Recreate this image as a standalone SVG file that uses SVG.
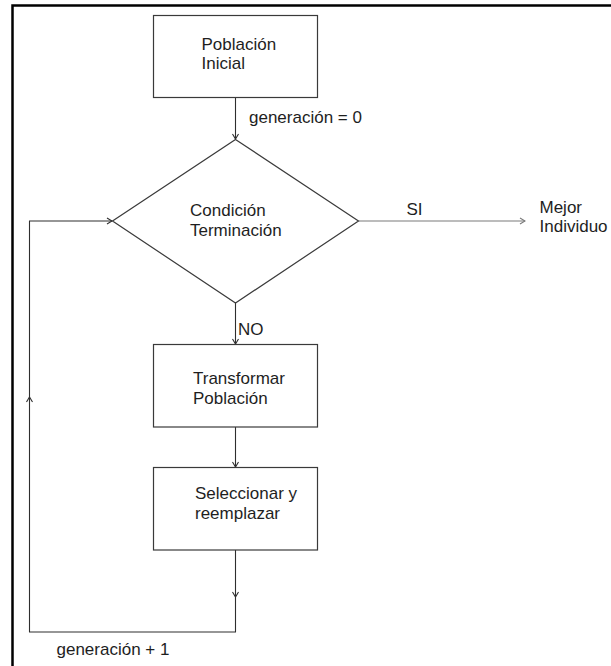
<svg xmlns="http://www.w3.org/2000/svg" width="611" height="666" viewBox="0 0 611 666">
<style>
.box{fill:#fff;stroke:#3a3a3a;stroke-width:1.2}
.t{font-family:"Liberation Sans",Arial,sans-serif;font-size:17px;fill:#1e1e1e}
.ln{fill:none;stroke:#2e2e2e;stroke-width:1.1}
.gray{stroke:#7a7a7a}
</style>
<defs>
<marker id="ah" markerUnits="userSpaceOnUse" viewBox="-7 -4 8 8" refX="0" refY="0" markerWidth="8" markerHeight="8" orient="auto">
<path d="M-5,-3 L0,0 L-5,3" fill="none" stroke="#2e2e2e" stroke-width="1.1"/>
</marker>
<marker id="ahg" markerUnits="userSpaceOnUse" viewBox="-7 -4 8 8" refX="0" refY="0" markerWidth="8" markerHeight="8" orient="auto">
<path d="M-5,-3 L0,0 L-5,3" fill="none" stroke="#7a7a7a" stroke-width="1.1"/>
</marker>
</defs>
<rect width="611" height="666" fill="#fff"/>
<g id="frame">
<path d="M12.5,666 V5.5 H611" fill="none" stroke="#000" stroke-width="2.5"/>
</g>
<g id="connectors">
<path class="ln" d="M235.5,97.5 V139" marker-end="url(#ah)"/>
<path class="ln gray" d="M358.5,221 H525" marker-end="url(#ahg)"/>
<path class="ln" d="M235.5,303 V344" marker-end="url(#ah)"/>
<path class="ln" d="M235.5,427 V467" marker-end="url(#ah)"/>
<path class="ln" d="M235.5,550 V597" marker-end="url(#ah)"/>
<path class="ln" d="M235.5,597 V632 H29.5 V397" marker-end="url(#ah)"/>
<path class="ln" d="M29.5,397 V221 H112" marker-end="url(#ah)"/>
</g>
<g id="poblacion-inicial">
<rect class="box" x="153.5" y="15.5" width="164" height="82"/>
<text class="t" x="201.5" y="50">Población</text>
<text class="t" x="201.5" y="69">Inicial</text>
</g>
<g id="label-gen0">
<text class="t" x="249" y="123">generación = 0</text>
</g>
<g id="condicion">
<path class="box" d="M235.5,139.5 L358.5,221 L235.5,303 L112.5,221 Z"/>
<text class="t" x="190" y="216">Condición</text>
<text class="t" x="190" y="236">Terminación</text>
</g>
<g id="label-si">
<text class="t" x="406.5" y="215">SI</text>
</g>
<g id="mejor-individuo">
<text class="t" x="539.5" y="213">Mejor</text>
<text class="t" x="539.5" y="232">Individuo</text>
</g>
<g id="label-no">
<text class="t" x="238" y="335">NO</text>
</g>
<g id="transformar">
<rect class="box" x="153.5" y="344.5" width="164" height="82.5"/>
<text class="t" x="193" y="384">Transformar</text>
<text class="t" x="193" y="404">Población</text>
</g>
<g id="seleccionar">
<rect class="box" x="153.5" y="467.5" width="164" height="82.5"/>
<text class="t" x="195" y="499">Seleccionar y</text>
<text class="t" x="195" y="519">reemplazar</text>
</g>
<g id="label-gen1">
<text class="t" x="56.5" y="655">generación + 1</text>
</g>
</svg>
